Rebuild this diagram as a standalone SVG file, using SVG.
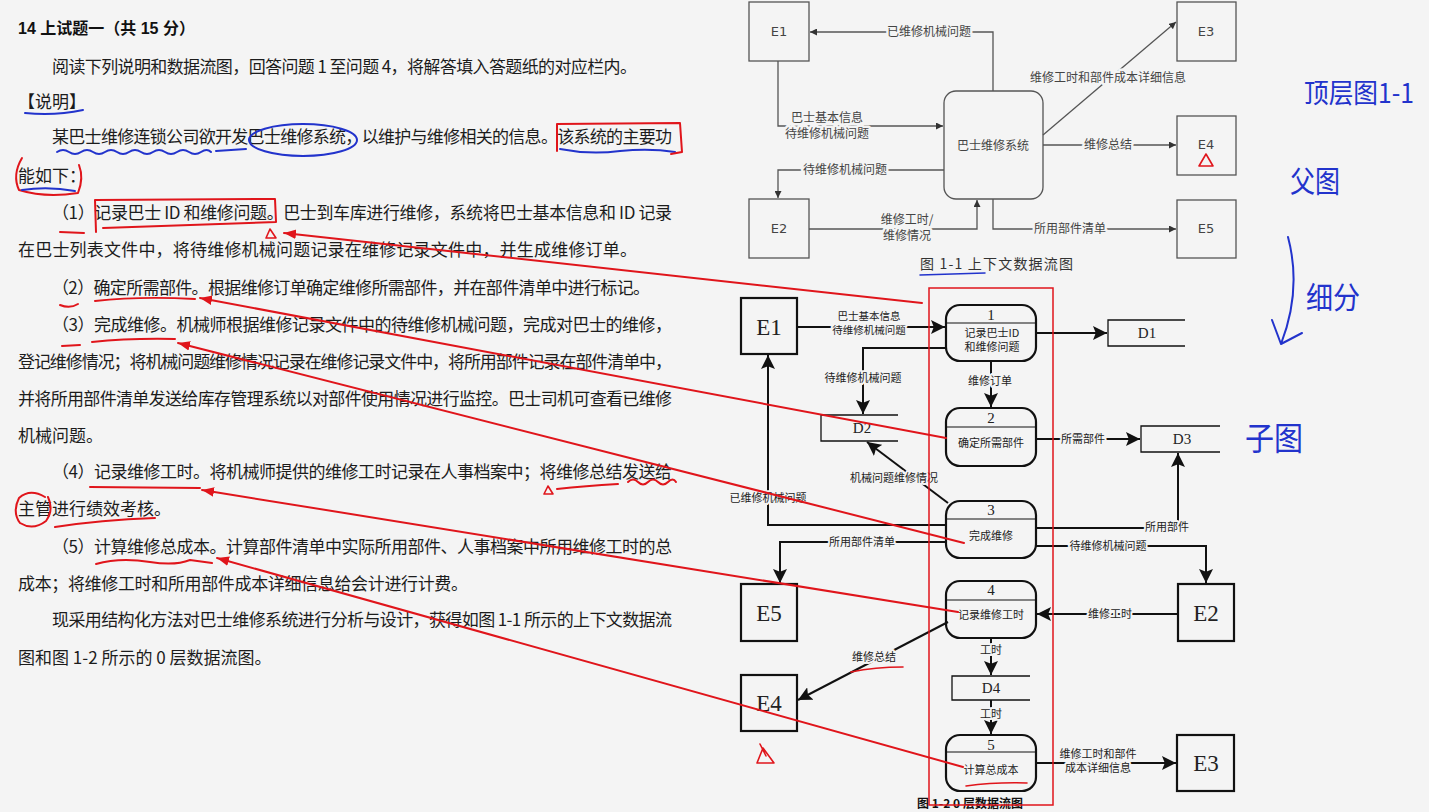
<svg xmlns="http://www.w3.org/2000/svg" width="1429" height="812" viewBox="0 0 1429 812">
<style>
.txt{font-family:"Noto Sans CJK SC","Liberation Sans",sans-serif;font-size:17px;fill:#1c1c1c}
.ttl{font-family:"Liberation Sans","Noto Sans CJK SC",sans-serif;font-size:16px;font-weight:bold;fill:#111}
.g1 rect,.g1 path{fill:none;stroke:#555;stroke-width:1.3}
.l1{font-family:"Noto Sans CJK SC",sans-serif;font-size:12px;fill:#444;text-anchor:middle;stroke:#f4f4f4;stroke-width:5px;paint-order:stroke;stroke-linejoin:round}
.e1{font-family:"DejaVu Sans","Noto Sans CJK SC",sans-serif;font-size:13px;fill:#444;text-anchor:middle}
.c1{fill:none;stroke:#555;stroke-width:1.3}
.c2{fill:none;stroke:#111;stroke-width:2}
.box2{fill:none;stroke:#111;stroke-width:2.2}
.l2{font-family:"Noto Sans CJK SC",sans-serif;font-size:11px;fill:#222;text-anchor:middle;stroke:#f4f4f4;stroke-width:4px;paint-order:stroke;stroke-linejoin:round}
.p2{font-family:"Noto Sans CJK SC",sans-serif;font-size:11px;fill:#222;text-anchor:middle}
.n2{font-family:"Liberation Serif",serif;font-size:15px;fill:#222;text-anchor:middle}
.E2{font-family:"Liberation Serif",serif;font-size:23px;fill:#222;text-anchor:middle}
.red{fill:none;stroke:#e0151b;stroke-width:2;stroke-linecap:round;stroke-linejoin:round}
.redt{fill:none;stroke:#e0151b;stroke-width:1.6;stroke-linecap:round;stroke-linejoin:round}
.blue{fill:none;stroke:#2233cc;stroke-width:2;stroke-linecap:round;stroke-linejoin:round}
.hw{font-family:"Noto Sans CJK SC",sans-serif;fill:#2233cc;font-weight:normal}
</style>
<defs>
<marker id="a1" viewBox="0 0 10 10" refX="10" refY="5" markerWidth="7" markerHeight="7" markerUnits="userSpaceOnUse" orient="auto"><path d="M0,0 L10,5 L0,10 z" fill="#333"/></marker>
<marker id="a2" viewBox="0 0 10 10" refX="10" refY="5" markerWidth="14" markerHeight="14" markerUnits="userSpaceOnUse" orient="auto"><path d="M0,0 L10,5 L0,10 L2,5 z" fill="#111"/></marker>
<marker id="ar" viewBox="0 0 10 10" refX="10" refY="5" markerWidth="12" markerHeight="12" markerUnits="userSpaceOnUse" orient="auto"><path d="M0,1 L10,5 L0,9 z" fill="#e0151b"/></marker>
</defs>
<rect width="1429" height="812" fill="#f4f4f4"/>

<g id="question-text">
<text class="ttl" x="18" y="34">14 上试题一（共 15 分）</text>
<text class="txt" x="52" y="73" textLength="585" lengthAdjust="spacing">阅读下列说明和数据流图，回答问题 1 至问题 4，将解答填入答题纸的对应栏内。</text>
<text class="txt" x="18" y="108">【说明】</text>
<text class="txt" x="52" y="143" textLength="620" lengthAdjust="spacing">某巴士维修连锁公司欲开发巴士维修系统，以维护与维修相关的信息。该系统的主要功</text>
<text class="txt" x="18" y="182">能如下：</text>
<text class="txt" x="52" y="219" textLength="620" lengthAdjust="spacing">（1）记录巴士 ID 和维修问题。巴士到车库进行维修，系统将巴士基本信息和 ID 记录</text>
<text class="txt" x="18" y="256" textLength="619" lengthAdjust="spacing">在巴士列表文件中，将待维修机械问题记录在维修记录文件中，并生成维修订单。</text>
<text class="txt" x="52" y="294" textLength="598" lengthAdjust="spacing">（2）确定所需部件。根据维修订单确定维修所需部件，并在部件清单中进行标记。</text>
<text class="txt" x="52" y="331" textLength="620" lengthAdjust="spacing">（3）完成维修。机械师根据维修记录文件中的待维修机械问题，完成对巴士的维修，</text>
<text class="txt" x="18" y="368" textLength="654" lengthAdjust="spacing">登记维修情况；将机械问题维修情况记录在维修记录文件中，将所用部件记录在部件清单中，</text>
<text class="txt" x="18" y="405" textLength="654" lengthAdjust="spacing">并将所用部件清单发送给库存管理系统以对部件使用情况进行监控。巴士司机可查看已维修</text>
<text class="txt" x="18" y="442">机械问题。</text>
<text class="txt" x="52" y="478" textLength="620" lengthAdjust="spacing">（4）记录维修工时。将机械师提供的维修工时记录在人事档案中；将维修总结发送给</text>
<text class="txt" x="18" y="515">主管进行绩效考核。</text>
<text class="txt" x="52" y="553" textLength="620" lengthAdjust="spacing">（5）计算维修总成本。计算部件清单中实际所用部件、人事档案中所用维修工时的总</text>
<text class="txt" x="18" y="590" textLength="450" lengthAdjust="spacing">成本；将维修工时和所用部件成本详细信息给会计进行计费。</text>
<text class="txt" x="52" y="626" textLength="620" lengthAdjust="spacing">现采用结构化方法对巴士维修系统进行分析与设计，获得如图 1-1 所示的上下文数据流</text>
<text class="txt" x="18" y="664">图和图 1-2 所示的 0 层数据流图。</text>
</g>

<g id="context-diagram" class="g1">
<g id="c-E1"><rect x="749" y="2" width="60" height="59"/><text class="e1" x="779" y="36">E1</text></g>
<g id="c-E2"><rect x="749" y="199" width="60" height="59"/><text class="e1" x="779" y="233">E2</text></g>
<g id="c-E3"><rect x="1177" y="2" width="59" height="59"/><text class="e1" x="1206" y="36">E3</text></g>
<g id="c-E4"><rect x="1177" y="116" width="59" height="59"/><text class="e1" x="1206" y="149">E4</text></g>
<g id="c-E5"><rect x="1177" y="200" width="59" height="58"/><text class="e1" x="1206" y="233">E5</text></g>
<g id="c-sys"><rect x="944" y="91" width="99" height="108" rx="12"/><text class="e1" x="993" y="150" style="font-family:'Noto Sans CJK SC',sans-serif;font-size:12px">巴士维修系统</text></g>
</g>

<g id="context-connectors">
<path class="c1" d="M993,91 V32 H810" marker-end="url(#a1)"/>
<path class="c1" d="M778,61 V126 H943" marker-end="url(#a1)"/>
<path class="c1" d="M944,170 H778 V198" marker-end="url(#a1)"/>
<path class="c1" d="M809,229 H977 V200" marker-end="url(#a1)"/>
<path class="c1" d="M993,199 V229 H1176" marker-end="url(#a1)"/>
<path class="c1" d="M1043,145 H1176" marker-end="url(#a1)"/>
<path class="c1" d="M1043,135 L1176,22" marker-end="url(#a1)"/>
<text class="l1" x="929" y="36">已维修机械问题</text>
<text class="l1" x="827" y="122">巴士基本信息</text>
<text class="l1" x="827" y="138">待维修机械问题</text>
<text class="l1" x="845" y="174">待维修机械问题</text>
<text class="l1" x="907" y="224">维修工时/</text>
<text class="l1" x="907" y="240">维修情况</text>
<text class="l1" x="1070" y="233">所用部件清单</text>
<text class="l1" x="1108" y="149">维修总结</text>
<text class="l1" x="1108" y="82">维修工时和部件成本详细信息</text>
<text x="920" y="269" textLength="153" lengthAdjust="spacing" style="font-family:'Noto Sans CJK SC',sans-serif;font-size:14px;fill:#333">图  1-1  上下文数据流图</text>
</g>

<g id="level0-diagram">
<g id="E1"><rect class="box2" x="741" y="298" width="56" height="56"/><text class="E2" x="769" y="335">E1</text></g>
<g id="E5"><rect class="box2" x="741" y="584" width="56" height="57"/><text class="E2" x="769" y="621">E5</text></g>
<g id="E4"><rect class="box2" x="741" y="675" width="56" height="56"/><text class="E2" x="769" y="711">E4</text></g>
<g id="E2"><rect class="box2" x="1178" y="584" width="56" height="57"/><text class="E2" x="1206" y="621">E2</text></g>
<g id="E3"><rect class="box2" x="1177" y="735" width="57" height="56"/><text class="E2" x="1206" y="771">E3</text></g>

<g id="P1"><rect class="box2" x="946" y="305" width="90" height="56" rx="14"/><path class="c2" d="M946,323 H1036" style="stroke-width:1.2"/><text class="n2" x="991" y="320">1</text><text class="p2" x="992" y="337">记录巴士ID</text><text class="p2" x="992" y="351">和维修问题</text></g>
<g id="P2"><rect class="box2" x="946" y="408" width="90" height="58" rx="14"/><path class="c2" d="M946,427 H1036" style="stroke-width:1.2"/><text class="n2" x="991" y="423">2</text><text class="p2" x="991" y="447">确定所需部件</text></g>
<g id="P3"><rect class="box2" x="946" y="501" width="90" height="57" rx="14"/><path class="c2" d="M946,519 H1036" style="stroke-width:1.2"/><text class="n2" x="991" y="515">3</text><text class="p2" x="991" y="540">完成维修</text></g>
<g id="P4"><rect class="box2" x="946" y="581" width="90" height="57" rx="14"/><path class="c2" d="M946,600 H1036" style="stroke-width:1.2"/><text class="n2" x="991" y="595">4</text><text class="p2" x="991" y="619">记录维修工时</text></g>
<g id="P5"><rect class="box2" x="946" y="735" width="90" height="56" rx="14"/><path class="c2" d="M946,752 H1036" style="stroke-width:1.2"/><text class="n2" x="991" y="750">5</text><text class="p2" x="991" y="774">计算总成本</text></g>

<g id="D1"><path class="c2" d="M1185,320 H1108 V346 H1185" style="stroke-width:1.3"/><text class="n2" x="1147" y="338">D1</text></g>
<g id="D2"><path class="c2" d="M898,415 H821 V441 H898" style="stroke-width:1.3"/><text class="n2" x="862" y="433">D2</text></g>
<g id="D3"><path class="c2" d="M1220,426 H1141 V452 H1220" style="stroke-width:1.3"/><text class="n2" x="1182" y="444">D3</text></g>
<g id="D4"><path class="c2" d="M1030,676 H952 V700 H1030" style="stroke-width:1.3"/><text class="n2" x="991" y="693">D4</text></g>
</g>

<g id="level0-connectors">
<path class="c2" d="M797,327 H945" marker-end="url(#a2)"/>
<path class="c2" d="M1036,333 H1107" marker-end="url(#a2)"/>
<path class="c2" d="M946,348 H863 V414" marker-end="url(#a2)"/>
<path class="c2" d="M991,361 V407" marker-end="url(#a2)"/>
<path class="c2" d="M1036,439 H1140" marker-end="url(#a2)"/>
<path class="c2" d="M948,503 L867,442" marker-end="url(#a2)"/>
<path class="c2" d="M946,525 H768 V355" marker-end="url(#a2)"/>
<path class="c2" d="M946,542 H780 V583" marker-end="url(#a2)"/>
<path class="c2" d="M1036,528 H1178 V453" marker-end="url(#a2)"/>
<path class="c2" d="M1036,546 H1206 V583" marker-end="url(#a2)"/>
<path class="c2" d="M1178,614 H1037" marker-end="url(#a2)"/>
<path class="c2" d="M948,622 L798,700" marker-end="url(#a2)"/>
<path class="c2" d="M991,638 V675" marker-end="url(#a2)"/>
<path class="c2" d="M991,700 V734" marker-end="url(#a2)"/>
<path class="c2" d="M1036,763 H1176" marker-end="url(#a2)"/>
<text class="l2" x="869" y="320" style="font-size:10.5px">巴士基本信息</text>
<text class="l2" x="869" y="334" style="font-size:10.5px">待维修机械问题</text>
<text class="l2" x="863" y="382">待维修机械问题</text>
<text class="l2" x="990" y="385">维修订单</text>
<text class="l2" x="1083" y="443">所需部件</text>
<text class="l2" x="894" y="482">机械问题维修情况</text>
<text class="l2" x="768" y="502">已维修机械问题</text>
<text class="l2" x="862" y="546">所用部件清单</text>
<text class="l2" x="1167" y="531">所用部件</text>
<text class="l2" x="1108" y="550">待维修机械问题</text>
<text class="l2" x="1110" y="618">维修工时</text>
<text class="l2" x="874" y="661">维修总结</text>
<text class="l2" x="991" y="654">工时</text>
<text class="l2" x="991" y="718">工时</text>
<text class="l2" x="1098" y="758">维修工时和部件</text>
<text class="l2" x="1098" y="772">成本详细信息</text>
<text x="970" y="808" style="font-family:'Noto Sans CJK SC',sans-serif;font-size:12px;font-weight:bold;fill:#111;text-anchor:middle">图 1-2 0 层数据流图</text>
</g>

<g id="annotations">
<rect x="929" y="288" width="124" height="517" fill="none" stroke="#e0151b" stroke-width="1.5"/>
<path class="blue" d="M920,275 Q950,274 985,273" style="stroke-width:1.5"/>
<path class="redt" d="M1199,166 L1213,166 L1206,154 Z"/>
<path class="redt" d="M851,672 Q875,667 903,667"/>
<path class="redt" d="M966,786 Q995,782 1027,783"/>
<path class="redt" d="M757,763 L774,763 L763,748 Z M760,744 L766,756"/>

<path class="blue" d="M25,113 Q55,116 83,110"/>
<path class="blue" d="M57,152 q6,-4 12,0 t12,0 t12,0 t12,0 t12,0 t12,0 t12,0 t12,0 t12,0 t12,0 t12,0 t12,0 t10,0"/>
<path class="blue" d="M216,151 L246,149"/>
<ellipse class="blue" cx="303" cy="140" rx="54" ry="16"/>
<path class="blue" d="M560,149 Q590,155 620,151 Q650,148 675,152"/>
<path class="red" d="M557,151 L557,124 L680,123 L682,152 L671,154"/>
<path class="red" d="M22,158 Q12,175 19,190 Q45,198 78,193 Q84,178 79,165"/>
<path class="blue" d="M22,190 Q48,186 75,191"/>

<path class="red" d="M96,232 L95,200 L275,199 L276,222 L103,228"/>
<path class="red" d="M60,232 L84,233"/>
<path class="redt" d="M266,238 L276,238 L270,229 Z"/>
<path class="red" d="M60,305 Q70,309 78,304"/>
<path class="red" d="M95,301 Q140,296 195,299"/>
<path class="red" d="M62,346 L80,345"/>
<path class="red" d="M92,342 Q130,338 175,339"/>
<path class="red" d="M90,487 L200,488"/>
<path class="redt" d="M544,494 L553,494 L548,486 Z"/>
<path class="red" d="M557,489 Q585,486 618,484"/>
<path class="red" d="M628,482 q5,-5 10,0 t10,0 t10,0 t10,0 t8,0"/>
<path class="red" d="M45,497 Q30,488 19,498 Q12,512 20,523 Q33,531 46,521 Q54,510 48,497"/>
<path class="red" d="M55,527 Q100,520 155,518"/>
<path class="red" d="M96,564 Q120,557 150,562 Q175,566 190,560 L212,563"/>

<path class="red" d="M922,303 L284,233" marker-end="url(#ar)"/>
<path class="red" d="M946,438 L200,298" marker-end="url(#ar)"/>
<path class="red" d="M964,543 L178,343" marker-end="url(#ar)"/>
<path class="red" d="M958,612 L202,490" marker-end="url(#ar)"/>
<path class="red" d="M963,767 L217,558" marker-end="url(#ar)"/>

<text class="hw" x="1304" y="103" font-size="27" textLength="110" lengthAdjust="spacingAndGlyphs">顶层图1-1</text>
<text class="hw" x="1290" y="192" font-size="30" textLength="50" lengthAdjust="spacingAndGlyphs">父图</text>
<path class="blue" d="M1288,237 Q1302,290 1281,344 M1272,320 L1281,344 L1302,333"/>
<text class="hw" x="1306" y="308" font-size="30" textLength="54" lengthAdjust="spacingAndGlyphs">细分</text>
<text class="hw" x="1245" y="450" font-size="32" textLength="58" lengthAdjust="spacingAndGlyphs">子图</text>
</g>
</svg>
